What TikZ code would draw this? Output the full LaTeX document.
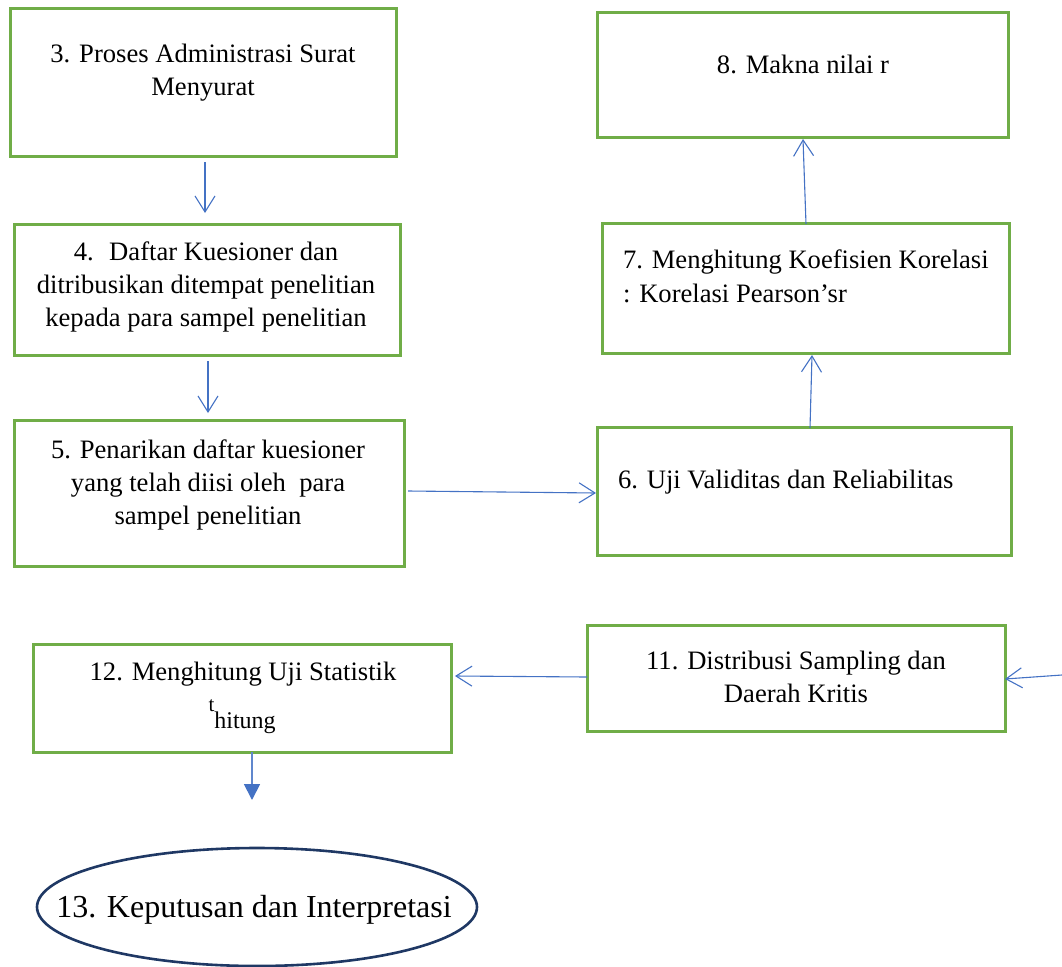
\documentclass[tikz,border=0pt]{standalone}
\usepackage{fontspec}
\setmainfont{Liberation Serif}
\usetikzlibrary{arrows.meta,shapes.geometric}
\definecolor{boxgreen}{HTML}{70AD47}
\definecolor{arrblue}{HTML}{4472C4}
\definecolor{navy}{HTML}{1F3864}
\newcommand\bodyfs{\fontsize{26.6}{33}\selectfont}
\tikzset{
  procbox/.style={draw=boxgreen, line width=3pt, rectangle, inner sep=0pt, outer sep=0pt},
  lbl/.style={inner sep=0pt, outer sep=0pt, font=\bodyfs, text=black},
  arr/.style={draw=arrblue, line width=1.1pt, -{Straight Barb[length=16pt,width=20pt,line width=1.1pt]}},
  farr/.style={draw=arrblue!85, line width=1.8pt, -{Triangle[length=16pt,width=16pt,color=arrblue,fill=arrblue]}},
}
\begin{document}
\begin{tikzpicture}[x=1pt,y=-1pt]
\useasboundingbox (0,0) rectangle (1062,966);
% boxes
\node[procbox, minimum width=386pt, minimum height=147pt] (b3) at (203,82.5) {};
\node[procbox, minimum width=386pt, minimum height=131pt] (b4) at (207,289.5) {};
\node[procbox, minimum width=390pt, minimum height=146pt] (b5) at (209,493) {};
\node[procbox, minimum width=411pt, minimum height=124pt] (b8) at (802.5,75) {};
\node[procbox, minimum width=407pt, minimum height=130pt] (b7) at (805.5,288) {};
\node[procbox, minimum width=414pt, minimum height=128pt] (b6) at (804,491) {};
\node[procbox, minimum width=418pt, minimum height=106pt] (b11) at (796,678) {};
\node[procbox, minimum width=418pt, minimum height=108pt] (b12) at (242,698) {};
\node[draw=navy, line width=2.6pt, ellipse, inner sep=0pt, outer sep=0pt, minimum width=440pt, minimum height=118pt] (e13) at (257,907) {};
% texts
\node[lbl, align=center, anchor=north] (t3) at (203,39.9) {\strut 3. Proses Administrasi Surat\\Menyurat};
\node[lbl, align=center, anchor=north] (t4) at (206,236.9) {\strut 4.~ Daftar Kuesioner dan\\ditribusikan ditempat penelitian\\kepada para sampel penelitian};
\node[lbl, align=center, anchor=north] (t5) at (208,434.9) {\strut 5. Penarikan daftar kuesioner\\yang telah diisi oleh~ para\\sampel penelitian};
\node[lbl, anchor=base] (t8) at (803,74) {8. Makna nilai r};
\node[lbl, align=left, anchor=north west, font=\fontsize{26.6}{34}\selectfont] (t7) at (623,244.9) {\strut 7. Menghitung Koefisien Korelasi\\: Korelasi Pearson’sr};
\node[lbl, anchor=base west] (t6) at (618,488) {6. Uji Validitas dan Reliabilitas};
\node[lbl, align=center, anchor=north] (t11) at (796,645.9) {\strut 11. Distribusi Sampling dan\\Daerah Kritis};
\node[lbl, anchor=base] (t12) at (243,680) {12. Menghitung Uji Statistik};
\node[lbl, anchor=base, font=\fontsize{21}{24}\selectfont] (t12t) at (211.5,711) {t};
\node[lbl, anchor=base, font=\fontsize{24}{28}\selectfont] (t12h) at (245,728) {hitung};
\node[lbl, anchor=base, font=\fontsize{32}{38}\selectfont] (t13) at (254,917) {13. Keputusan dan Interpretasi};
% connectors
\coordinate (r11) at (1062,675);
\draw[arr] ([xshift=2pt,yshift=-6pt]b3.south) -- ([xshift=-2pt,yshift=11pt]b4.north);
\draw[arr] ([xshift=1pt,yshift=-6pt]b4.south) -- ([xshift=-1pt,yshift=7pt]b5.north);
\draw[arr] ([xshift=4pt,yshift=2pt]b5.east) -- ([xshift=-1pt,yshift=-2pt]b6.west);
\draw[arr] ([xshift=6pt,yshift=-1pt]b6.north) -- ([xshift=6.5pt,yshift=-2pt]b7.south);
\draw[arr] ([xshift=0.5pt,yshift=-1pt]b7.north) -- ([xshift=0.5pt,yshift=-2pt]b8.south);
\draw[arr] (r11) -- ([yshift=-1pt]b11.east);
\draw[arr] ([yshift=1pt]b11.west) -- ([xshift=4pt,yshift=22pt]b12.east);
\draw[farr] ([xshift=10pt]b12.south) -- ([xshift=-5pt,yshift=48pt]e13.north);
\end{tikzpicture}
\end{document}
